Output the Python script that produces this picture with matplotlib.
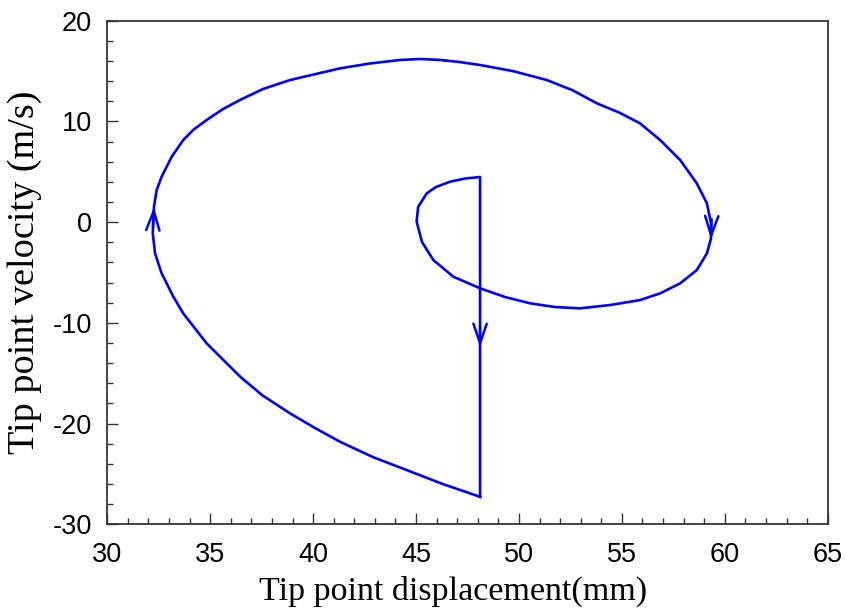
import matplotlib.pyplot as plt
import numpy as np

plt.rcParams['axes.unicode_minus'] = False

# trajectory (displacement mm, velocity m/s)
disp = [48.11, 46.31, 44.55, 42.91, 41.31, 40.10, 38.88, 37.52, 36.46, 34.83,
        33.69, 33.21, 32.64, 32.32, 32.21, 32.27, 32.40, 32.64, 33.13, 33.69,
        34.20, 34.83, 35.60, 36.45, 37.57, 38.88, 41.31, 42.76, 44.22, 45.20,
        46.17, 47.10, 48.11, 49.70, 51.35, 52.60, 53.78, 54.90, 55.88, 56.86,
        57.83, 58.64, 59.13, 59.33, 59.33, 59.13, 58.64, 57.83, 56.86, 55.88,
        54.43, 52.97, 51.75, 50.54, 49.33, 48.11, 46.81, 45.84, 45.29, 45.03,
        45.10, 45.52, 45.97, 46.65, 47.38, 48.11, 48.11]
vel = [-27.27, -26.01, -24.62, -23.33, -21.81, -20.45, -18.99, -17.17, -15.35, -12.04,
       -9.06, -7.41, -5.08, -3.10, -1.11, 1.53, 3.19, 4.51, 6.49, 8.15,
       9.20, 10.14, 11.20, 12.13, 13.22, 14.11, 15.27, 15.75, 16.10, 16.20,
       16.10, 15.90, 15.60, 15.00, 14.11, 13.10, 11.80, 10.85, 9.81, 8.15,
       6.17, 3.85, 1.87, -0.12, -1.61, -3.10, -4.76, -6.08, -7.07, -7.74,
       -8.23, -8.56, -8.43, -8.06, -7.44, -6.57, -5.42, -3.76, -1.98, 0.04,
       1.50, 2.86, 3.49, 4.01, 4.33, 4.48, -27.27]

# arrow heads: tip and a point just behind it
arrow_tip = [(32.27, 1.5), (59.33, -1.7), (48.11, -12.4)]
arrow_tail = [(32.22, -0.5), (59.36, 0.3), (48.11, -10.4)]

fig = plt.figure(figsize=(8.46, 6.14), dpi=100)
ax = fig.add_axes([0.1268, 0.1461, 0.8516, 0.8202])

ax.plot(disp, vel, color='#0000ff', lw=1.9, solid_joinstyle='round')
for tip, tail in zip(arrow_tip, arrow_tail):
    ax.annotate('', xy=tip, xytext=tail,
                arrowprops=dict(arrowstyle='->,head_length=0.7,head_width=0.24',
                                color='#0000ff', lw=1.8, mutation_scale=20,
                                shrinkA=0, shrinkB=0))

ax.set_xlim(30, 65)
ax.set_ylim(-30, 20)
ax.set_xticks(np.arange(30, 66, 5))
ax.set_xticks(np.arange(30, 66, 1), minor=True)
ax.set_yticks(np.arange(-30, 21, 10))
ax.set_yticks(np.arange(-30, 21, 2), minor=True)

ax.tick_params(which='both', direction='in', top=False, right=False,
               colors='#333333', width=1.0, labelcolor='black')
ax.tick_params(which='major', length=8, labelsize=19.5)
ax.tick_params(which='minor', length=4.5)
ax.tick_params(axis='x', which='major', pad=13)
ax.tick_params(axis='y', which='major', pad=11)
for lab in ax.get_xticklabels() + ax.get_yticklabels():
    lab.set_fontfamily('Liberation Sans')

for sp in ax.spines.values():
    sp.set_color('#333333')
    sp.set_linewidth(1.3)

ax.set_xlabel('Tip point displacement(mm)', fontfamily='Liberation Serif',
              fontsize=24.5)
ax.xaxis.set_label_coords(0.48, -0.15, transform=ax.transAxes)
ax.xaxis.label.set_va('baseline')
ax.set_ylabel('Tip point velocity (m/s)', fontfamily='Liberation Serif',
              fontsize=27.5, labelpad=8)

fig.savefig('out.png', dpi=100)
